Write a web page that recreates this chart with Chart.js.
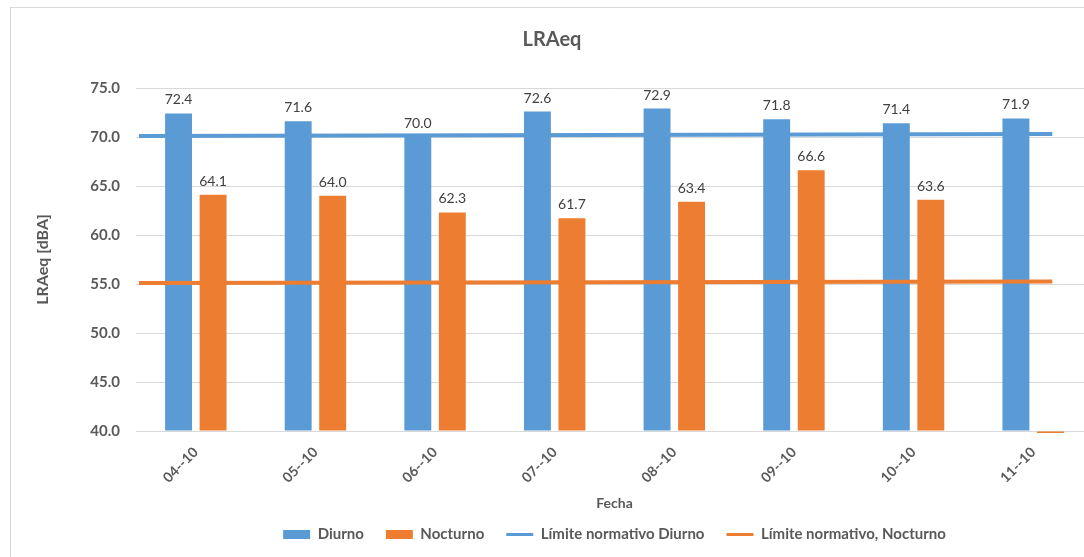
<!DOCTYPE html>
<html>
<head>
<meta charset="utf-8">
<script src="https://cdn.jsdelivr.net/npm/chart.js@4.4.1/dist/chart.umd.min.js"></script>
<style>
  html, body { margin: 0; padding: 0; background: #fff; overflow: hidden; width: 1084px; height: 557px; }
  #frame { position: absolute; left: 10px; top: 7px; width: 1200px; height: 700px; border-left: 1px solid #d9d9d9; border-top: 1px solid #d9d9d9; }
  #c { position: absolute; left: 11px; top: 8px; }
</style>
</head>
<body>
<div id="frame"></div>
<canvas id="c" width="1082" height="549"></canvas>
<script>
// ---- data ----
const categories = ['04--10', '05--10', '06--10', '07--10', '08--10', '09--10', '10--10', '11--10'];
const diurno = [72.4, 71.6, 70.0, 72.6, 72.9, 71.8, 71.4, 71.9];
const nocturno = [64.1, 64.0, 62.3, 61.7, 63.4, 66.6, 63.6, 0];
// limit lines: start / end position (in category units on the x axis) and values
const limiteX = [-0.475, 7.16];
const limiteDiurno = [70.1, 70.3];
const limiteNocturno = [55.1, 55.25];
const yTicks = [40, 45, 50, 55, 60, 65, 70, 75];
const yMin = 40, yMax = 75;

const BLUE = '#5B9BD5';
const ORANGE = '#ED7D31';
const TEXT = '#595959';

Chart.defaults.font.family = 'Lato, "Open Sans", "Liberation Sans", sans-serif';
Chart.defaults.color = TEXT;

const labelPlugin = {
  id: 'barLabels',
  afterDatasetsDraw(chart) {
    const ctx = chart.ctx;
    const min = chart.scales.y.min;
    ctx.save();
    ctx.font = '14px Lato, "Open Sans", sans-serif';
    ctx.fillStyle = '#404040';
    ctx.textAlign = 'center';
    ctx.textBaseline = 'alphabetic';
    [0, 1].forEach(di => {
      const meta = chart.getDatasetMeta(di);
      const data = chart.data.datasets[di].data;
      meta.data.forEach((el, i) => {
        const v = data[i];
        if (v == null || v < min) return;
        ctx.fillText(v.toFixed(1), el.x, el.y - 9);
      });
    });
    ctx.restore();
  }
};

const toPts = (xs, ys) => xs.map((x, i) => ({ x: x, y: ys[i] }));

new Chart(document.getElementById('c'), {
  type: 'bar',
  data: {
    labels: categories,
    datasets: [
      { label: 'Diurno', data: diurno, backgroundColor: BLUE, order: 2, base: yMin,
        categoryPercentage: 0.577, barPercentage: 0.78 },
      { label: 'Nocturno', data: nocturno, backgroundColor: ORANGE, order: 2, base: yMin,
        categoryPercentage: 0.577, barPercentage: 0.78,
        clip: { left: 0, top: 0, right: 0, bottom: 2 } },
      { type: 'line', label: 'Límite normativo Diurno', data: toPts(limiteX, limiteDiurno),
        parsing: false, borderColor: BLUE, backgroundColor: BLUE, borderWidth: 4,
        pointRadius: 0, order: 1, fill: false },
      { type: 'line', label: 'Límite normativo, Nocturno', data: toPts(limiteX, limiteNocturno),
        parsing: false, borderColor: ORANGE, backgroundColor: ORANGE, borderWidth: 4,
        pointRadius: 0, order: 1, fill: false }
    ]
  },
  options: {
    responsive: false,
    animation: false,
    layout: { padding: { left: 0, right: 0, top: 0, bottom: 5 } },
    plugins: {
      tooltip: { enabled: false },
      title: {
        display: true, text: 'LRAeq', color: TEXT,
        font: { size: 20, weight: 'bold' },
        padding: { top: 20, bottom: 36 }
      },
      legend: {
        position: 'bottom',
        fullSize: false,
        labels: {
          usePointStyle: true,
          boxWidth: 27, boxHeight: 9, pointStyleWidth: 27,
          padding: 22,
          color: TEXT,
          font: { size: 15, weight: 'bold' },
          generateLabels(chart) {
            return chart.data.datasets.map((ds, i) => ({
              text: ds.label,
              fillStyle: ds.type === 'line' ? ds.borderColor : ds.backgroundColor,
              strokeStyle: ds.type === 'line' ? ds.borderColor : ds.backgroundColor,
              lineWidth: ds.type === 'line' ? 3 : 0,
              pointStyle: ds.type === 'line' ? 'line' : 'rect',
              hidden: false,
              datasetIndex: i,
              fontColor: TEXT
            }));
          }
        }
      }
    },
    scales: {
      x: {
        afterFit(scale) { scale.height = 74; },
        grid: { display: false, drawTicks: false },
        border: { display: true, color: '#d9d9d9' },
        ticks: { color: TEXT, font: { size: 14, weight: 'bold' }, minRotation: 45, maxRotation: 45, padding: 13 },
        title: { display: true, text: 'Fecha', color: TEXT, font: { size: 14, weight: 'bold' }, padding: { top: 0, bottom: -7 } }
      },
      y: {
        min: yMin, max: yMax, stacked: false,
        afterBuildTicks(scale) { scale.ticks = yTicks.map(v => ({ value: v })); },
        afterFit(scale) { scale.width = 125; },
        grid: { color: '#d9d9d9', drawTicks: false },
        border: { display: false },
        ticks: { color: TEXT, font: { size: 15, weight: 'bold' }, padding: 16,
          callback: v => Number(v).toFixed(1) },
        title: { display: true, text: 'LRAeq [dBA]', color: TEXT, font: { size: 16, weight: 'bold' }, padding: { top: 22, bottom: 0 } }
      }
    }
  },
  plugins: [labelPlugin]
});
</script>
</body>
</html>
